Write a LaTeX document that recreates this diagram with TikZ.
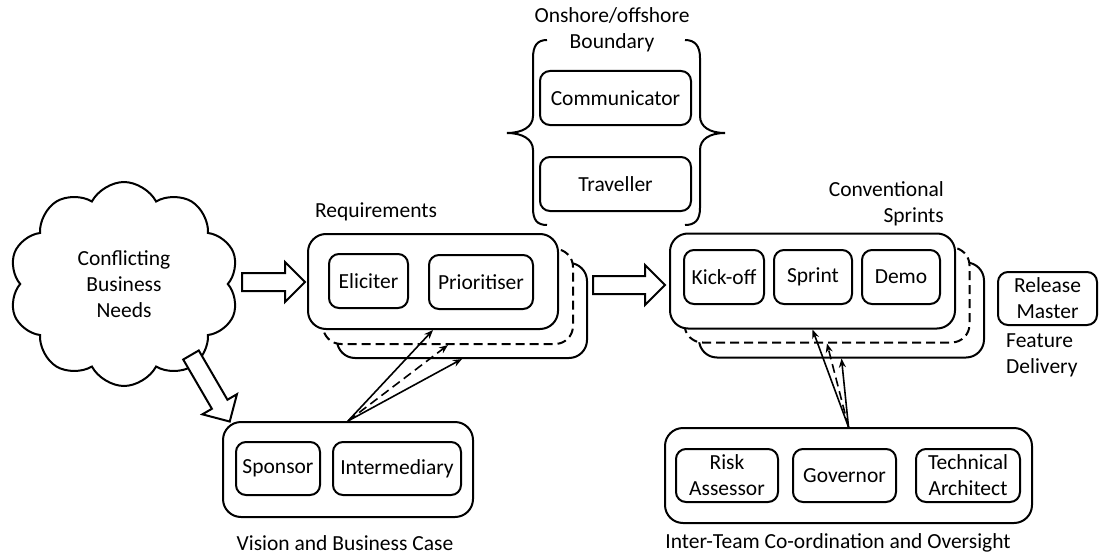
\documentclass[tikz,border=0pt]{standalone}
\usepackage{fontspec}
\setmainfont{Carlito}
\usetikzlibrary{shapes.symbols,arrows.meta}
\tikzset{
  base/.style={font=\fontsize{21.5}{26}\selectfont},
  bigbox/.style={draw, rounded corners=18pt, line width=2pt, fill=white, minimum width=#1, minimum height=95pt, inner sep=0pt},
  role/.style={draw, rounded corners=10pt, line width=2pt, fill=white, align=center, inner sep=0pt, minimum width=#1, minimum height=54pt},
  lbl/.style={align=center, inner sep=0pt},
  dashline/.style={dash pattern=on 9pt off 5pt},
  thinarr/.style={-{Stealth[length=9pt,width=7pt]}, line width=1.6pt},
  pics/blockarr/.style={code={
    \draw[line width=2pt, line join=miter, fill=white]
      (0,-9) -- (#1-20,-9) -- (#1-20,-20) -- (#1,0) -- (#1-20,20) -- (#1-20,9) -- (0,9) -- cycle;}}
}
\begin{document}
\begin{tikzpicture}[x=1pt, y=-1pt, base]
\useasboundingbox (0,0) rectangle (1099,559);

% cloud
\node[draw, line width=2pt, cloud, cloud puffs=10, cloud puff arc=125, cloud ignores aspect,
      minimum width=230pt, minimum height=204pt, align=center, inner sep=0pt] (cloud) at (124,284)
      {Conflicting\\Business\\Needs};

% requirements stack
\node[bigbox=250pt] (req3) at (462,310.5) {};
\node[bigbox=250pt, dashline] (req2) at (448,296.5) {};
\node[bigbox=250pt] (req) at (433,281.5) {};
\node[role=79pt] (elic) at (368.5,281) {Eliciter};
\node[role=104pt] (prio) at (481,282) {Prioritiser};
\node[lbl] (reqlbl) at (376,212) {Requirements};

% sprints stack
\node[bigbox=285pt] (spr3) at (841.5,310) {};
\node[bigbox=285pt, dashline] (spr2) at (827,295) {};
\node[bigbox=285pt] (spr) at (812.5,281) {};
\node[role=80pt] (kick) at (724,277) {Kick-off};
\node[role=78pt] (sprint) at (813,277) {Sprint};
\node[role=78pt] (demo) at (901,277) {Demo};
\node[lbl, align=right, anchor=east] (sprlbl) at (944,204) {Conventional\\Sprints};

% onshore/offshore
\node[lbl] (onlbl) at (612,30) {Onshore/offshore\\Boundary};
\node[role=151pt] (comm) at (615.5,98) {Communicator};
\node[role=151pt] (trav) at (615.5,184) {Traveller};
\draw[line width=2pt] (547,40) .. controls (537,40) and (533,46) .. (533,58)
  -- (533,116) .. controls (533,127) and (522,133) .. (507,133)
  .. controls (522,133) and (533,139) .. (533,150)
  -- (533,208) .. controls (533,220) and (537,225) .. (547,225);
\draw[line width=2pt] (685,40) .. controls (695,40) and (700,46) .. (700,58)
  -- (700,116) .. controls (700,127) and (710,133) .. (725,133)
  .. controls (710,133) and (700,139) .. (700,150)
  -- (700,208) .. controls (700,220) and (695,225) .. (685,225);

% vision
\node[bigbox=250pt] (vis) at (348,469.5) {};
\node[role=84pt, minimum height=53pt] (spons) at (278,468.5) {Sponsor};
\node[role=128pt, minimum height=53pt] (inter) at (397,468.5) {Intermediary};
\node[lbl] (vislbl) at (345,543) {Vision and Business Case};

% inter-team
\node[bigbox=367pt] (itc) at (848.5,475.5) {};
\node[role=102pt, minimum height=53pt] (risk) at (727,475.5) {Risk\\Assessor};
\node[role=103pt, minimum height=53pt] (gov) at (844.5,475.5) {Governor};
\node[role=104pt, minimum height=53pt] (tech) at (968,475.5) {Technical\\Architect};
\node[lbl] (itclbl) at (838,543) {Inter-Team Co-ordination and Oversight};

% release
\node[role=99pt, minimum height=53pt] (rel) at (1047.5,298.5) {Release\\Master};
\node[lbl, align=left, anchor=west] (feat) at (1006,355) {Feature\\Delivery};

% block arrows
\pic at (242,282) {blockarr=63};
\pic at (593,285) {blockarr=72};
\pic[rotate=-59.8] at (191,355) {blockarr=77};

% thin arrows
\draw[thinarr] (vis.north) -- (req.south);
\draw[thinarr, dashline] (vis.north) -- (req2.south);
\draw[thinarr] (vis.north) -- (req3.south);
\draw[thinarr] (itc.north) -- (spr.south);
\draw[thinarr, dashline] (itc.north) -- (spr2.south);
\draw[thinarr] (itc.north) -- (spr3.south);
\end{tikzpicture}
\end{document}
